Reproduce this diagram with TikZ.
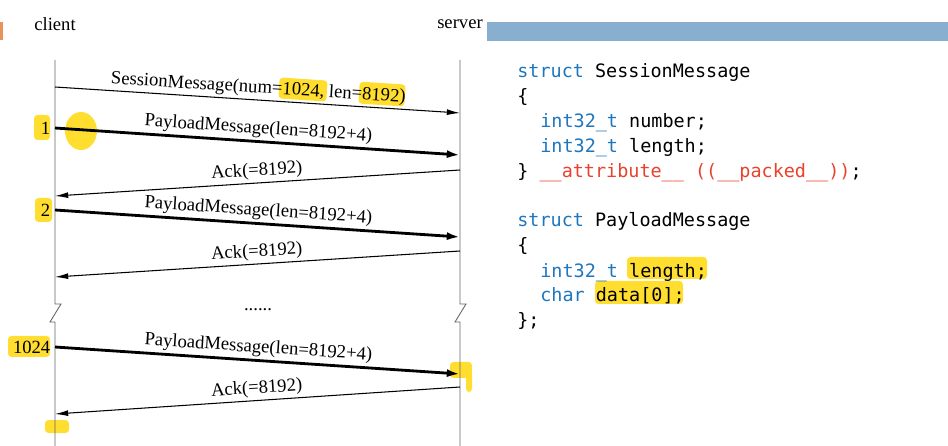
\documentclass[tikz,border=0pt]{standalone}
\usepackage{fontspec}
\setmainfont{Liberation Serif}
\setmonofont{DejaVu Sans Mono}
\usetikzlibrary{arrows.meta}
\definecolor{kwblue}{RGB}{30,118,190}
\definecolor{attrred}{RGB}{232,66,44}
\definecolor{hlyellow}{RGB}{255,222,48}
\definecolor{barblue}{RGB}{136,175,208}
\definecolor{markorange}{RGB}{233,146,92}
\tikzset{
  lifeline/.style={draw=gray!80!black, line width=0.5pt},
  msg/.style={line width=0.6pt, -{Latex[length=7.5pt,width=3.4pt]}},
  datamsg/.style={line width=1.6pt, -{Latex[length=7.5pt,width=4.6pt]}},
  msglabel/.style={midway, above, sloped, inner sep=1.5pt},
  seqno/.style={anchor=east, inner sep=2.5pt},
  hl/.style={fill=hlyellow, rounded corners=2pt},
  codeline/.style={anchor=base west, inner sep=0pt, font=\ttfamily\fontsize{10.5}{14}\selectfont},
}
\newcommand{\kw}[1]{\textcolor{kwblue}{#1}}
\begin{document}
\begin{tikzpicture}[x=0.02cm, y=-0.02cm, font=\fontsize{10.6}{12.7}\selectfont]
  \useasboundingbox (0,0) rectangle (948,446);
  % slide header
  \fill[markorange] (0,22) rectangle (3,40);
  \fill[barblue] (487,22) rectangle (948,41);
  % marker strokes
  \fill[hl, rotate around={-3.7:(303,89)}] (279,79) rectangle (327,100);
  \fill[hl, rotate around={-3.7:(381,94)}] (359,83) rectangle (405,105);
  \fill[hl] (34,115) rectangle (50,140);
  \fill[hl] (81,131) ellipse (16 and 19);
  \fill[hl] (35,198) rectangle (52,222);
  \fill[hl] (8,336) rectangle (50,357);
  \fill[hl] (450,362) rectangle (472,378);
  \fill[hl] (466,372) rectangle (472,392);
  \fill[hl] (45,420) rectangle (69,433);
  \fill[hl] (627,257) rectangle (707,279);
  \fill[hl] (595,281) rectangle (683,304);

  \node (client) at (55,24) {client};
  \node (server) at (460,24) {server};

  % lifelines
  \coordinate (ctop) at (55,60);
  \coordinate (cbot) at (55,446);
  \coordinate (stop) at (460,60);
  \coordinate (sbot) at (460,446);
  \draw[lifeline] (ctop) -- (55,304) -- ++(6,0) -- (50,322) -- (55,322) -- (cbot);
  \draw[lifeline] (stop) -- (460,304) -- ++(6,0) -- (455,322) -- (460,322) -- (sbot);

  % message ends
  \coordinate (c1) at (55,87);  \coordinate (s1) at (460,113);
  \coordinate (c2) at (55,128); \coordinate (s2) at (460,155);
  \coordinate (s3) at (460,170); \coordinate (c3) at (55,196);
  \coordinate (c4) at (55,210); \coordinate (s4) at (460,237);
  \coordinate (s5) at (460,251); \coordinate (c5) at (55,277);
  \coordinate (c6) at (55,347); \coordinate (s6) at (460,374);
  \coordinate (s7) at (460,387); \coordinate (c7) at (55,414);

  \draw[msg] (c1) to node[msglabel] {SessionMessage(num=1024, len=8192)} (s1);
  \draw[datamsg] (c2) to node[msglabel] {PayloadMessage(len=8192+4)} (s2);
  \draw[msg] (s3) to node[msglabel] {Ack(=8192)} (c3);
  \draw[datamsg] (c4) to node[msglabel] {PayloadMessage(len=8192+4)} (s4);
  \draw[msg] (s5) to node[msglabel] {Ack(=8192)} (c5);
  \node (dots) at (258,310) {......};
  \draw[datamsg] (c6) to node[msglabel] {PayloadMessage(len=8192+4)} (s6);
  \draw[msg] (s7) to node[msglabel] {Ack(=8192)} (c7);

  \node[seqno] (n1) at (c2) {1};
  \node[seqno] (n2) at (c4) {2};
  \node[seqno] (n1024) at (c6) {1024};

  % structs
  \node[codeline] (sm0) at (517,78) {\kw{struct} SessionMessage};
  \node[codeline] (sm1) at (517,103) {\{};
  \node[codeline] (sm2) at (540,128) {\kw{int32\_t} number;};
  \node[codeline] (sm3) at (540,153) {\kw{int32\_t} length;};
  \node[codeline] (sm4) at (517,178) {\} \textcolor{attrred}{\_\_attribute\_\_ ((\_\_packed\_\_))};};
  \node[codeline] (pm0) at (517,227) {\kw{struct} PayloadMessage};
  \node[codeline] (pm1) at (517,252) {\{};
  \node[codeline] (pm2) at (540,277) {\kw{int32\_t} length;};
  \node[codeline] (pm3) at (540,302) {\kw{char} data[0];};
  \node[codeline] (pm4) at (517,327) {\};};
\end{tikzpicture}
\end{document}
